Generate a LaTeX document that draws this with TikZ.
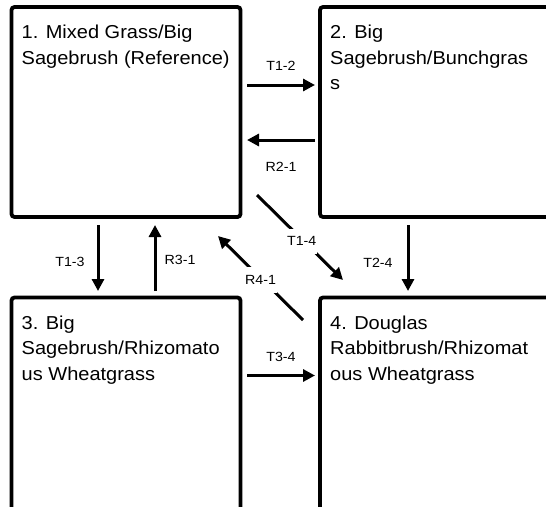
\documentclass[tikz,border=0pt]{standalone}
\usepackage{fontspec}
\setmainfont{Liberation Sans}
\newfontfamily\statefont[FakeStretch=1.07]{Liberation Sans}
\usetikzlibrary{arrows.meta}
% lines of a state name, stacked so that the node's baseline is the first line's
\newcommand{\statelines}[1]{\vtop{\halign{##\hfil\cr#1\crcr}}}
\tikzset{
  statebox/.style={draw, line width=3.8pt, rounded corners=3pt, inner sep=0pt, outer sep=0pt, anchor=north west},
  statetext/.style={anchor=base west, inner sep=0pt, font=\statefont\fontsize{18.7}{25.5}\selectfont},
  arr/.style={line width=3pt, -{Triangle[length=12pt,width=12pt]}},
  lbl/.style={inner sep=0pt, font=\statefont\fontsize{13.3}{15}\selectfont},
  cutlbl/.style={lbl, fill=white, inner xsep=1pt, inner ysep=8pt}
}
\begin{document}
\begin{tikzpicture}[x=1pt, y=-1pt]
  \useasboundingbox (0,0) rectangle (546,506);
  \fill[white] (0,0) rectangle (546,506);
  \clip (0,0) rectangle (546,506);

  % state boxes
  \node[statebox, minimum width=229pt, minimum height=210pt] (b1) at (11.5,7) {};
  \node[statebox, minimum width=250pt, minimum height=210pt] (b2) at (320,7) {};
  \node[statebox, minimum width=229pt, minimum height=230pt] (b3) at (11.5,297.5) {};
  \node[statebox, minimum width=250pt, minimum height=230pt] (b4) at (320,297.5) {};

  % state names
  \node[statetext] (t1) at ([shift={(10,31.5)}]b1.north west) {\statelines{1. Mixed Grass/Big\cr Sagebrush (Reference)}};
  \node[statetext] (t2) at ([shift={(10,31.5)}]b2.north west) {\statelines{2. Big\cr Sagebrush/Bunchgras\cr s}};
  \node[statetext] (t3) at ([shift={(10,31.5)}]b3.north west) {\statelines{3. Big\cr Sagebrush/Rhizomato\cr us Wheatgrass}};
  \node[statetext] (t4) at ([shift={(10,31.5)}]b4.north west) {\statelines{4. Douglas\cr Rabbitbrush/Rhizomat\cr ous Wheatgrass}};

  % transitions and recoveries
  \draw[arr] ([shift={(6.5,78)}]b1.north east) -- ([shift={(-5,78)}]b2.north west)
    node[lbl, midway, yshift=19pt] (l12) {T1-2};
  \draw[arr] ([shift={(-5,133)}]b2.north west) -- ([shift={(6.5,133)}]b1.north east)
    node[lbl, midway, yshift=-27pt] (l21) {R2-1};
  \draw[arr] ([shift={(86.5,8)}]b1.south west) -- ([shift={(86.5,-6.5)}]b3.north west)
    node[lbl, midway, xshift=-28pt, yshift=-4pt] (l13) {T1-3};
  \draw[arr] ([shift={(143.5,-6.5)}]b3.north west) -- ([shift={(143.5,8)}]b1.south west)
    node[lbl, midway, xshift=25pt, yshift=-2pt] (l31) {R3-1};
  \draw[arr] ([shift={(88,8)}]b2.south west) -- ([shift={(88,-6.5)}]b4.north west)
    node[lbl, midway, xshift=-30pt, yshift=-5pt] (l24) {T2-4};
  \draw[arr] ([shift={(6.5,78)}]b3.north east) -- ([shift={(-5,78)}]b4.north west)
    node[lbl, midway, yshift=18.5pt] (l34) {T3-4};
  \draw[arr] ([shift={(16.5,-22)}]b1.south east) -- ([shift={(23,-17.5)}]b4.north west)
    node[cutlbl, pos=0.52, yshift=-2pt] (l14) {T1-4};
  \draw[arr] ([shift={(-17,22.5)}]b4.north west) -- ([shift={(-22.5,19)}]b1.south east)
    node[cutlbl, pos=0.5, yshift=-2pt] (l41) {R4-1};
\end{tikzpicture}
\end{document}
